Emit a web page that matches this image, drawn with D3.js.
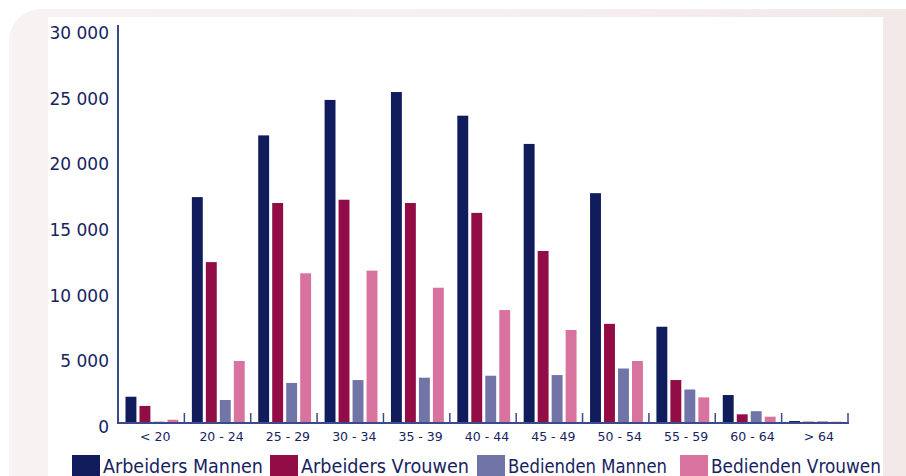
<!DOCTYPE html>
<html>
<head>
<meta charset="utf-8">
<script src="https://cdn.jsdelivr.net/npm/d3@7"></script>
<style>
  html, body { margin: 0; padding: 0; background: #ffffff; }
  svg { display: block; }
</style>
</head>
<body>
<svg id="chart" width="906" height="476"></svg>
<script>
// ---- data ----
const categories = ["< 20", "20 - 24", "25 - 29", "30 - 34", "35 - 39", "40 - 44", "45 - 49", "50 - 54", "55 - 59", "60 - 64", "> 64"];
const seriesNames = ["Arbeiders Mannen", "Arbeiders Vrouwen", "Bedienden Mannen", "Bedienden Vrouwen"];
const arbeidersMannen  = [2000, 17200, 21900, 24600, 25200, 23400, 21250, 17500, 7330, 2130, 150];
const arbeidersVrouwen = [1300, 12250, 16750, 17000, 16750, 16000, 13100, 7550, 3270, 660, 100];
const bediendenMannen  = [100, 1750, 3050, 3270, 3450, 3600, 3650, 4150, 2550, 900, 120];
const bediendenVrouwen = [250, 4720, 11400, 11600, 10300, 8600, 7080, 4720, 1950, 480, 100];
const yTicks = [0, 5000, 10000, 15000, 20000, 25000, 30000];

const seriesValues = [arbeidersMannen, arbeidersVrouwen, bediendenMannen, bediendenVrouwen];
const colors = ["#111c5c", "#920c46", "#7074a6", "#d8729f"];
const textColor = "#17235f";

const svg = d3.select("#chart");

// ---- background frame ----
const defs = svg.append("defs");
const grad = defs.append("linearGradient").attr("id", "frameGrad")
  .attr("x1", "0").attr("y1", "0").attr("x2", "1").attr("y2", "0");
grad.append("stop").attr("offset", "0").attr("stop-color", "#f8f3f2");
grad.append("stop").attr("offset", "0.5").attr("stop-color", "#f5efee");
grad.append("stop").attr("offset", "1").attr("stop-color", "#f2e9e7");
svg.append("rect").attr("x", 9).attr("y", 9).attr("width", 940).attr("height", 520)
  .attr("rx", 32).attr("fill", "url(#frameGrad)");
svg.append("rect").attr("x", 48).attr("y", 17).attr("width", 835).attr("height", 470)
  .attr("fill", "#ffffff");

// ---- scales ----
const x0 = d3.scaleBand().domain(categories).range([118, 848]).padding(0);
const x1 = d3.scaleBand().domain(d3.range(seriesNames.length))
  .range([7.5, x0.bandwidth() - 6]).paddingInner(0.22).paddingOuter(0);
const y = d3.scaleLinear().domain([0, 30000]).range([423, 29]);

// ---- bars ----
const groups = svg.append("g").selectAll("g").data(categories).join("g")
  .attr("transform", d => `translate(${x0(d)},0)`);
groups.selectAll("rect")
  .data((c, ci) => seriesValues.map((vals, si) => ({ si, v: vals[ci] })))
  .join("rect")
  .attr("x", d => x1(d.si))
  .attr("width", x1.bandwidth())
  .attr("y", d => y(d.v))
  .attr("height", d => y(0) - y(d.v))
  .attr("fill", d => colors[d.si]);

// ---- y axis ----
const fmt = v => d3.format(",")(v).replace(/,/g, " ");
const yAxis = svg.append("g").attr("transform", "translate(118,0)")
  .call(d3.axisLeft(y).tickValues(yTicks).tickFormat(fmt).tickSize(0).tickPadding(9));
yAxis.select(".domain").remove();
yAxis.selectAll("text")
  .attr("font-family", "DejaVu Sans, sans-serif")
  .attr("font-size", 17)
  .attr("fill", textColor)
  .attr("dy", "0.55em");
svg.append("line").attr("x1", 118).attr("x2", 118).attr("y1", 25).attr("y2", y(0))
  .attr("stroke", "#3b4a8c").attr("stroke-width", 2);

// ---- x axis ----
const xAxis = svg.append("g").attr("transform", `translate(0,${y(0)})`)
  .call(d3.axisBottom(x0).tickSize(0).tickPadding(9));
xAxis.select(".domain").remove();
xAxis.selectAll("text")
  .attr("font-family", "DejaVu Sans, sans-serif")
  .attr("font-size", 12.5)
  .attr("fill", textColor)
  .attr("dx", 4);
svg.append("line").attr("x1", 117).attr("x2", 849).attr("y1", y(0)).attr("y2", y(0))
  .attr("stroke", "#3b4a8c").attr("stroke-width", 2);
const boundaries = categories.map(c => x0(c)).concat([x0.range()[1]]);
svg.append("g").selectAll("line").data(boundaries).join("line")
  .attr("x1", d => d).attr("x2", d => d)
  .attr("y1", y(0) - 10).attr("y2", y(0))
  .attr("stroke", "#3b4a8c").attr("stroke-width", 1.5);

// ---- legend ----
const legendX = [72, 270, 477, 680];
const legendTextLen = [160, 168, 159, 170];
const legend = svg.append("g").selectAll("g").data(seriesNames).join("g")
  .attr("transform", (d, i) => `translate(${legendX[i]},455)`);
legend.append("rect").attr("width", 28).attr("height", 24)
  .attr("fill", (d, i) => colors[i]);
legend.append("text")
  .attr("x", 31).attr("y", 18)
  .attr("font-family", "DejaVu Sans, sans-serif")
  .attr("font-size", 19)
  .attr("fill", textColor)
  .attr("textLength", (d, i) => legendTextLen[i])
  .attr("lengthAdjust", "spacingAndGlyphs")
  .text(d => d);
</script>
</body>
</html>
